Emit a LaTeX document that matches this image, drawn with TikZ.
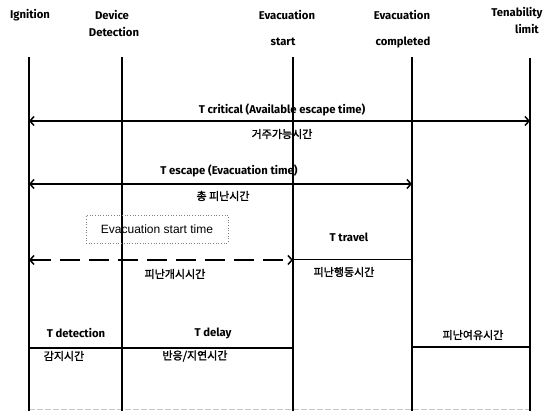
\documentclass[tikz,border=0pt]{standalone}
\usepackage{fontspec}
\setmainfont{Fira Sans}
\newfontfamily\kr[AutoFakeBold=1.6]{Noto Sans CJK KR}
\newfontfamily\arial{Liberation Sans}
\usetikzlibrary{arrows.meta}
\begin{document}
\begin{tikzpicture}[x=1pt,y=-1pt,
  hdr/.style={font=\bfseries\fontsize{11.3}{12}\selectfont, inner sep=0pt},
  lbl/.style={font=\bfseries\fontsize{11.3}{12}\selectfont, inner sep=0pt},
  kor/.style={font=\kr\bfseries\fontsize{11}{12}\selectfont, inner sep=0pt},
  vline/.style={line width=1.3pt},
  barb/.tip={Straight Barb[length=4pt,width=9pt,line width=1.5pt]},
  span/.style={line width=1.5pt, barb-barb},
  dspan/.style={line width=1.5pt, dash pattern=on 20pt off 9pt, barb-barb},
  thin/.style={line width=1pt},
  startbox/.style={draw=gray, dotted, line width=0.7pt, minimum width=142pt, minimum height=28pt, inner sep=0pt, font=\arial\fontsize{12}{14}\selectfont}
]
\useasboundingbox (0,0) rectangle (547,411);
% column coordinates
\coordinate (igtop) at (29,57);   \coordinate (igbot) at (29,411);
\coordinate (ddtop) at (122,57);  \coordinate (ddbot) at (122,411);
\coordinate (estop) at (293,57);  \coordinate (esbot) at (293,411);
\coordinate (ectop) at (412,57);  \coordinate (ecbot) at (412,411);
\coordinate (tltop) at (530,58);  \coordinate (tlbot) at (530,411);
\coordinate (f1) at (29,409);     \coordinate (f2) at (530,409);
% headers
\node[hdr] (h1) at (30,15) {Ignition};
\node[hdr] (h2a) at (112,15) {Device};
\node[hdr] (h2b) at (114,32) {Detection};
\node[hdr] (h3a) at (287,15) {Evacuation};
\node[hdr] (h3b) at (283,42) {start};
\node[hdr] (h4a) at (402,15) {Evacuation};
\node[hdr] (h4b) at (403,42) {completed};
\node[hdr] (h5a) at (517,13) {Tenability};
\node[hdr] (h5b) at (527,29) {limit};
% bottom faint line
\draw[gray!45, line width=0.8pt, dash pattern=on 6pt off 2pt] (f1) -- (f2);
% vertical lines
\draw[vline] (igtop) -- (igbot);
\draw[vline] (ddtop) -- (ddbot);
\draw[vline] (estop) -- (esbot);
\draw[vline] (ectop) -- (ecbot);
\draw[vline] (tltop) -- (tlbot);
% T critical
\coordinate (c1) at (29,121);
\coordinate (c2) at (530,121);
\draw[span] (c1) -- (c2);
\node[lbl] (tcrit) at (282,110) {T critical (Available escape time)};
\node[kor] (kcrit) at (282,134) {거주가능시간};
% T escape
\coordinate (e1) at (29,184);
\coordinate (e2) at (412,184);
\draw[span] (e1) -- (e2);
\node[lbl] (tesc) at (229,171) {T escape (Evacuation time)};
\node[kor] (kesc) at (223,196) {총 피난시간};
% Evacuation start time
\node[startbox] (esbox) at (157,229) {Evacuation start time};
\coordinate (d1) at (29,260);
\coordinate (d2) at (293,260);
\coordinate (d3) at (412,260);
\draw[dspan] (d1) -- (d2);
\draw[thin] (d2) -- (d3);
\node[kor] (kstart) at (175,274) {피난개시시간};
\node[lbl] (ttrav) at (349,237) {T travel};
\node[kor] (ktrav) at (344,272) {피난행동시간};
% bottom boxes
\coordinate (b1) at (29,348);
\coordinate (b2) at (293,348);
\coordinate (b3) at (412,347);
\coordinate (b4) at (530,347);
\draw[vline] (b1) -- (b2);
\draw[vline] (b3) -- (b4);
\node[lbl] (tdet) at (76,333) {T detection};
\node[lbl] (tdel) at (213,333) {T delay};
\node[kor] (kdet) at (64,356) {감지시간};
\node[kor] (kdel) at (195,356) {반응/지연시간};
\node[kor] (kmar) at (473,335) {피난여유시간};
\end{tikzpicture}
\end{document}
